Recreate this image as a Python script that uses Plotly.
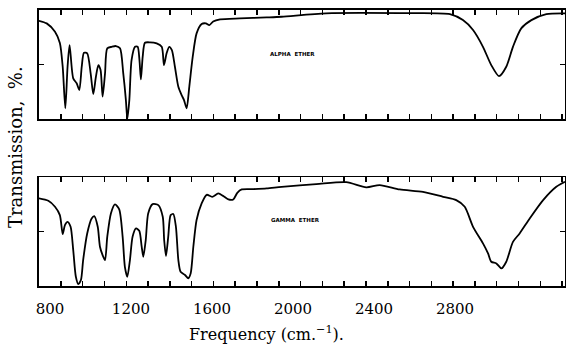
import plotly.graph_objects as go

# Alpha ether spectrum (top panel)
alpha_freq = [745, 784, 825, 849, 863, 876, 887, 897, 915, 932,
              945, 957, 968, 984, 1001, 1014, 1027, 1039, 1050, 1060,
              1072, 1083, 1105, 1126, 1146, 1162, 1175, 1182, 1192, 1203,
              1220, 1233, 1242, 1249, 1258, 1269, 1294, 1327, 1352, 1363,
              1376, 1389, 1402, 1417, 1434, 1450, 1462, 1475, 1488, 1505,
              1524, 1549, 1570, 1587, 1606, 1640, 1738, 1870, 1944, 2163,
              2528, 2775, 2839, 2889, 2938, 2979, 3017, 3053, 3086, 3127,
              3177, 3251, 3343]
alpha_T = [90.2, 87.8, 80.1, 69.7, 48, 9.8, 48, 67.9, 37.3, 32.8,
           26.6, 48, 60.8, 60.3, 41.9, 22.9, 38.8, 49.5, 45, 20.5,
           41.9, 64.9, 66.3, 67, 64.9, 41.9, 17.4, 0, 17.4, 54.1,
           66.3, 66.3, 54.1, 36.4, 57.2, 70, 70.4, 69.4, 66.3, 49.5,
           60.3, 66.3, 63.3, 48, 29.6, 22, 17.4, 9.8, 29.6, 57.2,
           78.6, 87.2, 87.8, 86.2, 89.6, 91.5, 92.4, 93.3, 93.9, 97,
           97.2, 96.3, 90.8, 81.7, 66.3, 49.5, 39.4, 48, 66.3, 83.2,
           90.8, 96.3, 97]

# Gamma ether spectrum (bottom panel)
gamma_freq = [745, 792, 825, 849, 863, 874, 887, 902, 915, 928,
              940, 953, 964, 984, 1006, 1019, 1036, 1047, 1060, 1072,
              1083, 1101, 1121, 1142, 1159, 1170, 1182, 1195, 1208, 1225,
              1241, 1253, 1261, 1273, 1285, 1307, 1335, 1357, 1364, 1373,
              1384, 1396, 1409, 1422, 1434, 1445, 1467, 1483, 1495, 1508,
              1524, 1549, 1574, 1601, 1631, 1656, 1681, 1705, 1725, 1747,
              1804, 1870, 1944, 2115, 2263, 2362, 2428, 2527, 2642, 2741,
              2806, 2848, 2889, 2938, 2963, 2979, 3004, 3029, 3053, 3086,
              3119, 3169, 3235, 3300, 3343]
gamma_T = [80.5, 78.3, 72.8, 65.1, 47.7, 56, 59, 54.4, 33, 8.5,
           1.8, 5.5, 23.9, 48.3, 62.1, 64.2, 54.4, 36.1, 28.4, 23.9,
           45.2, 66.7, 75, 70.4, 45.2, 17.7, 8.5, 23.9, 45.2, 52.9,
           50.7, 36.1, 26.9, 42.2, 66.7, 75.2, 74.3, 63.6, 42.2, 27.5,
           45.2, 65.1, 66.1, 54.4, 23.9, 13.1, 10.1, 7.1, 11.7, 36.1,
           60.6, 75.9, 83.8, 81.9, 85, 82.6, 79.5, 79.5, 85.6, 88.7,
           89, 89.6, 91.1, 93.6, 95.4, 90.6, 92.7, 88.7, 86.5, 81.9,
           78.9, 72.8, 54.4, 39.2, 30, 22.3, 20.8, 16.2, 22.3, 40.6,
           48.3, 62.1, 78.9, 91.1, 95.7]

tick_vals = [800, 1200, 1600, 2000, 2400, 2800]
tick_text = ["800", "1200", "1600", "2000", "2400", "2800"]
panel_labels = ["ALPHA  ETHER", "GAMMA  ETHER"]

W, H = 566, 348
ML, MR = 39, 1
PW = W - ML - MR
X_RANGE = [746, 3343]
SERIF = "DejaVu Serif"

fig = go.Figure()
fig.add_trace(go.Scatter(x=alpha_freq, y=alpha_T, mode="lines",
                         line=dict(color="black", width=1.8, shape="spline", smoothing=0.7),
                         xaxis="x", yaxis="y", showlegend=False, hoverinfo="skip"))
fig.add_trace(go.Scatter(x=gamma_freq, y=gamma_T, mode="lines",
                         line=dict(color="black", width=1.8, shape="spline", smoothing=0.7),
                         xaxis="x2", yaxis="y2", showlegend=False, hoverinfo="skip"))

# frame axes carrying the small chart-paper ticks
common_x = dict(range=X_RANGE, showline=True, linecolor="black", linewidth=1.6,
                mirror="ticks", showgrid=False, zeroline=False, layer="above traces",
                tickmode="linear", ticks="inside", ticklen=5, tickcolor="black",
                tickwidth=1.5, tick0=854, dtick=107.6, showticklabels=False)
common_y = dict(range=[0, 100], showline=True, linecolor="black", linewidth=1.6,
                mirror="ticks", showgrid=False, zeroline=False, ticks="inside",
                ticklen=5, tickcolor="black", tickwidth=1.5, tickmode="array",
                tickvals=[50], showticklabels=False)

fig.update_layout(
    width=W, height=H,
    margin=dict(l=ML, r=MR, t=0, b=0),
    paper_bgcolor="white", plot_bgcolor="rgba(0,0,0,0)",
    xaxis=dict(domain=[0, 1], anchor="y", **common_x),
    yaxis=dict(domain=[0.658, 0.971], anchor="x", **common_y),
    xaxis2=dict(domain=[0, 1], anchor="y2", **common_x),
    yaxis2=dict(domain=[0.178, 0.491], anchor="x2", **common_y),
    # label-only axis for the frequency scale
    xaxis3=dict(overlaying="x2", anchor="y2", side="bottom", range=X_RANGE,
                tickmode="array", tickvals=tick_vals, ticktext=tick_text, ticks="",
                showline=False, showgrid=False, zeroline=False, ticklabelstandoff=12,
                tickfont=dict(family=SERIF, size=15, color="black")),
)
fig.add_trace(go.Scatter(x=[X_RANGE[0]], y=[None], xaxis="x3", yaxis="y2",
                         mode="markers", showlegend=False, hoverinfo="skip"))

fig.add_annotation(x=2000, y=59.6, xref="x", yref="y", text="<b>" + panel_labels[0] + "</b>",
                   showarrow=False, font=dict(family="DejaVu Sans", size=5.5, color="black"))
fig.add_annotation(x=2010, y=60.5, xref="x2", yref="y2", text="<b>" + panel_labels[1] + "</b>",
                   showarrow=False, font=dict(family="DejaVu Sans", size=5.5, color="black"))

fig.add_annotation(x=(266 - ML) / PW, y=1 - 333 / H, xref="paper", yref="paper",
                   text="Frequency (cm.<sup>\u22121</sup>).", showarrow=False,
                   xanchor="center", yanchor="middle",
                   font=dict(family=SERIF, size=16, color="black"))
fig.add_annotation(x=(15 - ML) / PW, y=1 - 147 / H, xref="paper", yref="paper",
                   text="Transmission,  %.", showarrow=False, textangle=-90,
                   xanchor="center", yanchor="middle",
                   font=dict(family=SERIF, size=18, color="black"))

fig.write_html("out.html", config={"displayModeBar": False, "staticPlot": True},
               post_script="document.body.style.margin='0';document.body.style.overflow='hidden';")
